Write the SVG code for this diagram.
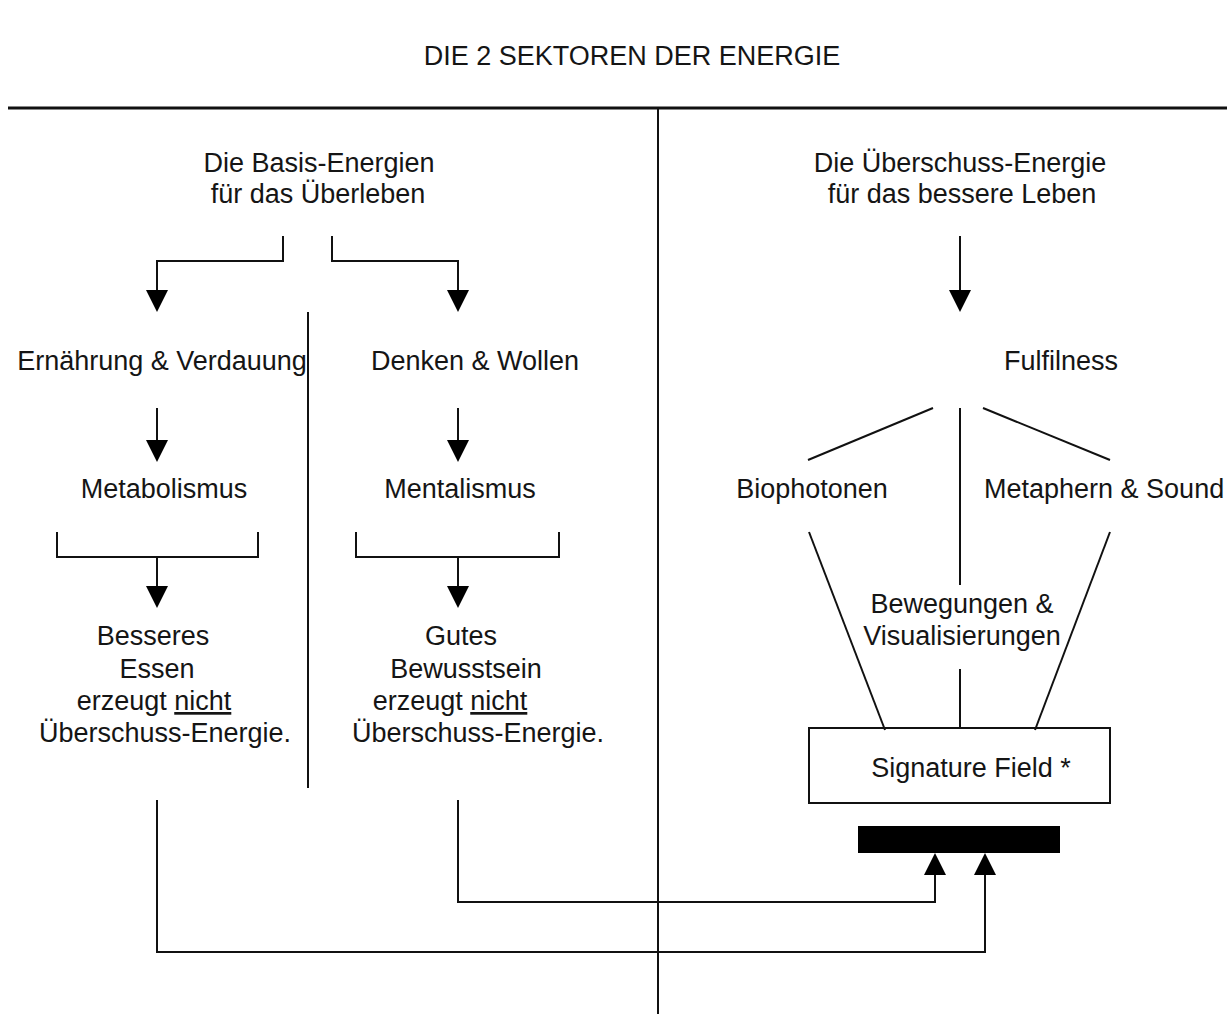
<svg xmlns="http://www.w3.org/2000/svg" width="1227" height="1014" viewBox="0 0 1227 1014">
<defs>
<style>
text{font-family:"Liberation Sans",Arial,sans-serif;font-size:27px;fill:#151515;text-anchor:middle}
.ln{stroke:#111;stroke-width:2;fill:none}
.u{text-decoration:underline}
</style>
<marker id="ah" markerUnits="userSpaceOnUse" markerWidth="22" markerHeight="24" refX="20" refY="11" orient="auto" viewBox="0 0 22 24">
<path d="M0,0 L22,11 L0,22 Z" fill="#000"/>
</marker>
</defs>
<rect width="1227" height="1014" fill="#fff"/>
<g id="title"><text x="632" y="65" font-size="28">DIE 2 SEKTOREN DER ENERGIE</text></g>
<g id="frame">
<line x1="8" y1="108" x2="1227" y2="108" stroke="#111" stroke-width="3"/>
<line x1="658" y1="108" x2="658" y2="1014" class="ln"/>
<line x1="308" y1="312" x2="308" y2="788" class="ln"/>
</g>
<g id="basis"><text x="319" y="172">Die Basis-Energien</text><text x="318" y="203">für das Überleben</text></g>
<g id="ueberschuss"><text x="960" y="172">Die Überschuss-Energie</text><text x="962" y="203">für das bessere Leben</text></g>
<g id="ernaehrung"><text x="162" y="370">Ernährung &amp; Verdauung</text></g>
<g id="denken"><text x="475" y="370">Denken &amp; Wollen</text></g>
<g id="fulfilness"><text x="1061" y="370">Fulfilness</text></g>
<g id="metabolismus"><text x="164" y="498">Metabolismus</text></g>
<g id="mentalismus"><text x="460" y="498">Mentalismus</text></g>
<g id="biophotonen"><text x="812" y="498">Biophotonen</text></g>
<g id="metaphern"><text x="984" y="498" style="text-anchor:start">Metaphern &amp; Sound</text></g>
<g id="essen">
<text x="153" y="645">Besseres</text>
<text x="157" y="678">Essen</text>
<text x="154" y="710">erzeugt <tspan class="u">nicht</tspan></text>
<text x="165" y="742">Überschuss-Energie.</text>
</g>
<g id="bewusstsein">
<text x="461" y="645">Gutes</text>
<text x="466" y="678">Bewusstsein</text>
<text x="450" y="710">erzeugt <tspan class="u">nicht</tspan></text>
<text x="478" y="742">Überschuss-Energie.</text>
</g>
<g id="bewegungen"><text x="962" y="613">Bewegungen &amp;</text><text x="962" y="645">Visualisierungen</text></g>
<g id="signature">
<rect x="809" y="728" width="301" height="75" class="ln"/>
<text x="971" y="777">Signature Field *</text>
</g>
<g id="bar"><rect x="858" y="826" width="202" height="27" fill="#000"/></g>
<g id="connectors" class="ln">
<path d="M283,236 V261 H157 V310" marker-end="url(#ah)"/>
<path d="M332,236 V261 H458 V310" marker-end="url(#ah)"/>
<path d="M960,236 V310" marker-end="url(#ah)"/>
<path d="M157,408 V460" marker-end="url(#ah)"/>
<path d="M458,408 V460" marker-end="url(#ah)"/>
<path d="M57,532 V557 H258 V532"/>
<path d="M356,532 V557 H559 V532"/>
<path d="M157,557 V606" marker-end="url(#ah)"/>
<path d="M458,557 V606" marker-end="url(#ah)"/>
<path d="M933,408 L808,460"/>
<path d="M983,408 L1110,460"/>
<path d="M960,408 V585"/>
<path d="M960,669 V728"/>
<path d="M809,532 L885,730"/>
<path d="M1110,532 L1035,730"/>
<path d="M458,800 V902 H935 V855" marker-end="url(#ah)"/>
<path d="M157,800 V952 H985 V855" marker-end="url(#ah)"/>
</g>
</svg>
